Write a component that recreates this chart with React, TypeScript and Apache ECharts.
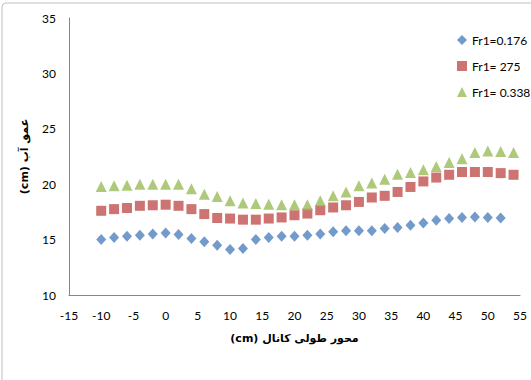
import React, { useEffect, useRef } from "react";
import * as echarts from "echarts";

// Positions along the channel (cm)
const xBlue = [-10, -8, -6, -4, -2, 0, 2, 4, 6, 8, 10, 12, 14, 16, 18, 20, 22, 24, 26, 28, 30, 32, 34, 36, 38, 40, 42, 44, 46, 48, 50, 52];
const xRedGreen = [-10, -8, -6, -4, -2, 0, 2, 4, 6, 8, 10, 12, 14, 16, 18, 20, 22, 24, 26, 28, 30, 32, 34, 36, 38, 40, 42, 44, 46, 48, 50, 52, 54];

// Water depth (cm) for each Froude number
const depthFr0176 = [15.0, 15.2, 15.3, 15.4, 15.5, 15.6, 15.45, 15.1, 14.8, 14.5, 14.1, 14.2, 15.0, 15.2, 15.3, 15.3, 15.4, 15.5, 15.7, 15.8, 15.8, 15.8, 16.0, 16.1, 16.3, 16.5, 16.75, 16.9, 17.0, 17.05, 17.0, 16.95];
const depthFr275 = [17.6, 17.75, 17.85, 18.05, 18.1, 18.15, 18.05, 17.75, 17.3, 16.95, 16.9, 16.8, 16.8, 16.9, 17.0, 17.2, 17.35, 17.65, 17.9, 18.1, 18.4, 18.8, 18.95, 19.3, 19.75, 20.25, 20.6, 20.85, 21.1, 21.1, 21.1, 21.0, 20.85];
const depthFr0338 = [19.8, 19.85, 19.9, 20.0, 20.0, 20.0, 20.0, 19.6, 19.1, 18.9, 18.5, 18.3, 18.25, 18.2, 18.15, 18.15, 18.15, 18.5, 18.95, 19.3, 19.85, 20.1, 20.45, 20.9, 21.05, 21.3, 21.6, 21.95, 22.3, 22.85, 23.0, 22.95, 22.85];

const seriesNames = ["Fr1=0.176", "Fr1= 275", "Fr1= 0.338"];
// Axis titles, written with the unit first so that it sits left of the Persian words in an LTR text run
const xTitle = "(cm) محور طولی کانال";
const yTitle = "(cm) عمق آب";

const pair = (xs: number[], ys: number[]) => xs.map((x, i) => [x, ys[i]]);

export default function App() {
  const ref = useRef<HTMLDivElement>(null);

  useEffect(() => {
    document.body.style.margin = "0";
    if (!ref.current) return;
    const chart = echarts.init(ref.current, undefined, { renderer: "svg" });
    const font = "Lato, 'Liberation Sans', sans-serif";
    const titleFont = "'DejaVu Sans', 'Noto Sans', sans-serif";
    chart.setOption({
      animation: false,
      backgroundColor: "#ffffff",
      graphic: [
        {
          type: "rect",
          shape: { x: 2, y: 3, width: 700, height: 700, r: 4 },
          style: { fill: "none", stroke: "#BFBFBF", lineWidth: 1 },
          silent: true,
        },
      ],
      grid: { left: 69, right: 11, top: 18, bottom: 85 },
      legend: {
        orient: "vertical",
        left: 452,
        top: 29,
        itemWidth: 10,
        itemHeight: 10,
        itemGap: 14,
        textStyle: { fontFamily: font, fontSize: 12, color: "#000" },
        data: seriesNames,
      },
      xAxis: {
        type: "value",
        min: -15,
        max: 55,
        interval: 5,
        name: xTitle,
        nameLocation: "middle",
        nameGap: 38,
        nameTextStyle: { fontFamily: titleFont, fontSize: 11, fontWeight: "bold", color: "#000" },
        axisLine: { onZero: false, lineStyle: { color: "#868686" } },
        axisTick: { show: false },
        splitLine: { show: false },
        axisLabel: { fontFamily: font, fontSize: 12, color: "#000", margin: 14 },
      },
      yAxis: {
        type: "value",
        min: 10,
        max: 35,
        interval: 5,
        name: yTitle,
        nameLocation: "middle",
        nameGap: 39,
        nameTextStyle: { fontFamily: titleFont, fontSize: 11, fontWeight: "bold", color: "#000" },
        axisLine: { show: true, onZero: false, lineStyle: { color: "#868686" } },
        axisTick: { show: false },
        splitLine: { show: false },
        axisLabel: { fontFamily: font, fontSize: 12, color: "#000", margin: 13 },
      },
      series: [
        {
          name: seriesNames[0],
          type: "scatter",
          symbol: "diamond",
          symbolSize: [10, 11],
          itemStyle: { color: "#4F81BD" },
          data: pair(xBlue, depthFr0176),
        },
        {
          name: seriesNames[1],
          type: "scatter",
          symbol: "rect",
          symbolSize: 10,
          itemStyle: { color: "#C0504D" },
          data: pair(xRedGreen, depthFr275),
        },
        {
          name: seriesNames[2],
          type: "scatter",
          symbol: "triangle",
          symbolSize: [11, 11],
          itemStyle: { color: "#9BBB59" },
          data: pair(xRedGreen, depthFr0338),
        },
      ],
    });
    return () => chart.dispose();
  }, []);

  return <div ref={ref} style={{ width: 531, height: 380 }} />;
}
